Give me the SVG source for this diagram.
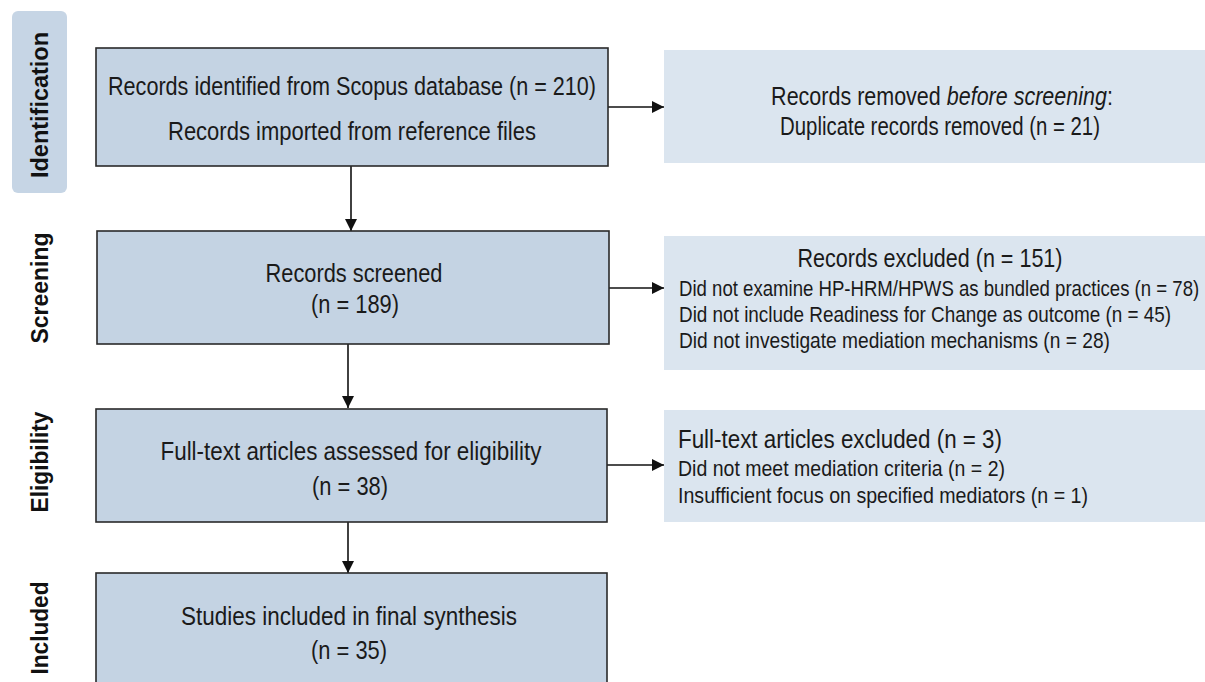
<svg xmlns="http://www.w3.org/2000/svg" width="1205" height="682" viewBox="0 0 1205 682">
<style>
.box{fill:#c4d3e3;stroke:#2a2a2a;stroke-width:1.6}
.side{fill:#dbe5ef;stroke:none}
.t{font-family:"Liberation Sans",Arial,sans-serif;font-size:25px;fill:#1a1a1a}
.s{font-family:"Liberation Sans",Arial,sans-serif;font-size:21.5px;fill:#1a1a1a}
.lab{font-family:"Liberation Sans",Arial,sans-serif;font-size:24px;font-weight:bold;fill:#111}
.c{stroke:#111;stroke-width:1.6;fill:none}
</style>
<defs>
<marker id="ah" viewBox="0 0 12 12" refX="12" refY="6" markerWidth="12" markerHeight="12" markerUnits="userSpaceOnUse" orient="auto">
<path d="M0,0 L12,6 L0,12 Z" fill="#111"/>
</marker>
</defs>
<rect width="1205" height="682" fill="#ffffff"/>
<g id="phase-labels">
<rect x="12" y="11" width="55" height="182" rx="6" fill="#c6d5e5"/>
<text class="lab" transform="translate(48,105) rotate(-90)" text-anchor="middle" textLength="146" lengthAdjust="spacingAndGlyphs">Identification</text>
<text class="lab" transform="translate(48,288) rotate(-90)" text-anchor="middle" textLength="111" lengthAdjust="spacingAndGlyphs">Screening</text>
<text class="lab" transform="translate(48,462) rotate(-90)" text-anchor="middle" textLength="101" lengthAdjust="spacingAndGlyphs">Eligibility</text>
<text class="lab" transform="translate(48,628) rotate(-90)" text-anchor="middle" textLength="93" lengthAdjust="spacingAndGlyphs">Included</text>
</g>
<g id="connectors">
<line class="c" x1="608" y1="107" x2="664" y2="107" marker-end="url(#ah)"/>
<line class="c" x1="609" y1="288" x2="664" y2="288" marker-end="url(#ah)"/>
<line class="c" x1="607" y1="465" x2="664" y2="465" marker-end="url(#ah)"/>
<line class="c" x1="351" y1="166" x2="351" y2="231" marker-end="url(#ah)"/>
<line class="c" x1="348" y1="344" x2="348" y2="408" marker-end="url(#ah)"/>
<line class="c" x1="348" y1="522" x2="348" y2="573" marker-end="url(#ah)"/>
</g>
<g id="identified">
<rect class="box" x="96" y="48" width="512" height="118"/>
<text class="t" x="352" y="95" text-anchor="middle" textLength="488" lengthAdjust="spacingAndGlyphs">Records identified from Scopus database (n = 210)</text>
<text class="t" x="352" y="140" text-anchor="middle" textLength="368" lengthAdjust="spacingAndGlyphs">Records imported from reference files</text>
</g>
<g id="removed">
<rect class="side" x="664" y="50" width="541" height="113"/>
<text class="t" transform="translate(942,105) scale(0.861,1)" text-anchor="middle" textLength="397" lengthAdjust="spacingAndGlyphs">Records removed <tspan font-style="italic">before screening</tspan>:</text>
<text class="t" x="940" y="135" text-anchor="middle" textLength="320" lengthAdjust="spacingAndGlyphs">Duplicate records removed (n = 21)</text>
</g>
<g id="screened">
<rect class="box" x="97" y="231" width="512" height="113"/>
<text class="t" x="354" y="282" text-anchor="middle" textLength="177" lengthAdjust="spacingAndGlyphs">Records screened</text>
<text class="t" x="355" y="313" text-anchor="middle" textLength="88" lengthAdjust="spacingAndGlyphs">(n = 189)</text>
</g>
<g id="excluded">
<rect class="side" x="664" y="236" width="541" height="134"/>
<text class="t" x="930" y="267" text-anchor="middle" textLength="265" lengthAdjust="spacingAndGlyphs">Records excluded (n = 151)</text>
<text class="s" transform="translate(679,296) scale(0.85,1)" textLength="612" lengthAdjust="spacingAndGlyphs">Did not examine HP-HRM/HPWS as bundled practices (n = 78)</text>
<text class="s" transform="translate(679,322) scale(0.85,1)" textLength="579" lengthAdjust="spacingAndGlyphs">Did not include Readiness for Change as outcome (n = 45)</text>
<text class="s" transform="translate(679,348) scale(0.85,1)" textLength="507" lengthAdjust="spacingAndGlyphs">Did not investigate mediation mechanisms (n = 28)</text>
</g>
<g id="eligibility">
<rect class="box" x="96" y="409" width="511" height="113"/>
<text class="t" x="351" y="460" text-anchor="middle" textLength="381" lengthAdjust="spacingAndGlyphs">Full-text articles assessed for eligibility</text>
<text class="t" x="350" y="495" text-anchor="middle" textLength="76" lengthAdjust="spacingAndGlyphs">(n = 38)</text>
</g>
<g id="fulltext-excluded">
<rect class="side" x="664" y="410" width="541" height="112"/>
<text class="t" x="678" y="448" textLength="324" lengthAdjust="spacingAndGlyphs">Full-text articles excluded (n = 3)</text>
<text class="s" x="678" y="476" textLength="327" lengthAdjust="spacingAndGlyphs">Did not meet mediation criteria (n = 2)</text>
<text class="s" x="678" y="503" textLength="410" lengthAdjust="spacingAndGlyphs">Insufficient focus on specified mediators (n = 1)</text>
</g>
<g id="included">
<rect class="box" x="96" y="573" width="511" height="116"/>
<text class="t" x="349" y="625" text-anchor="middle" textLength="336" lengthAdjust="spacingAndGlyphs">Studies included in final synthesis</text>
<text class="t" x="349" y="659" text-anchor="middle" textLength="76" lengthAdjust="spacingAndGlyphs">(n = 35)</text>
</g>
</svg>
